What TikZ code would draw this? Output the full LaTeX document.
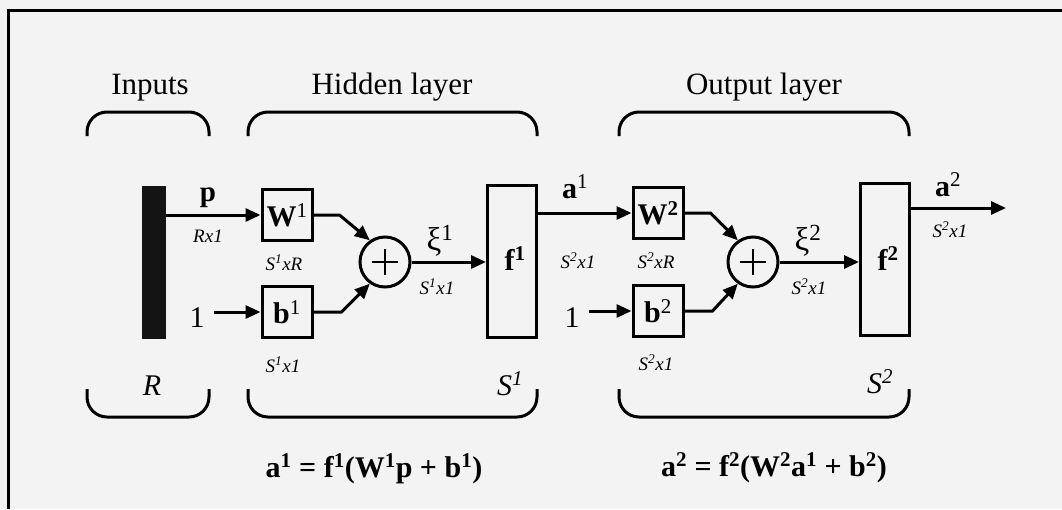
\documentclass[tikz,border=0pt]{standalone}
\usepackage{fontspec}
\setmainfont{Liberation Serif}
\usetikzlibrary{arrows.meta}
\definecolor{bgc}{HTML}{F3F3F3}
\newcommand\fbig{\fontsize{30}{34}\selectfont}
\newcommand\ftitle{\fontsize{31}{35}\selectfont}
\newcommand\fmid{\fontsize{29}{32}\selectfont}
\newcommand\fsmall{\fontsize{19}{22}\selectfont}
\newcommand\msup[1]{\textsuperscript{\mdseries #1}}
\begin{document}
\begin{tikzpicture}[x=1pt,y=-1pt,
  lw/.style={line width=3pt},
  box/.style={draw,lw,minimum width=50pt,minimum height=51pt,inner sep=0pt,font=\fbig},
  tall/.style={draw,lw,minimum width=49pt,minimum height=152pt,inner sep=0pt},
  sumc/.style={draw,lw,circle,minimum size=50pt,inner sep=0pt},
  arr/.style={lw,-{Triangle[length=15pt,width=13pt]}},
  brace/.style={lw,rounded corners=20pt},
  lbl/.style={font=\fbig,inner sep=0pt,anchor=base},
  title/.style={font=\ftitle,inner sep=0pt,anchor=base},
  dim/.style={font=\fsmall\itshape,inner sep=0pt,anchor=base},
  plus/.style={line width=2pt},
]
\fill[bgc] (0,0) rectangle (1062,509);
\useasboundingbox (0,0) rectangle (1062,509);
% frame
\draw[lw] (8,509) -- (8,10) -- (1062,10);

% titles
\node[title] (inputs) at (150,94) {Inputs};
\node[title] (hidden) at (392,94) {Hidden layer};
\node[title] (output) at (764,94) {Output layer};

% top braces
\draw[brace] (87,136) -- (87,112) -- (209,112) -- (209,136);
\draw[brace] (248,136) -- (248,112) -- (537,112) -- (537,136);
\draw[brace] (619,136) -- (619,112) -- (909,112) -- (909,136);
% bottom braces
\draw[brace] (87,389) -- (87,417) -- (209,417) -- (209,389);
\draw[brace] (248,389) -- (248,417) -- (537,417) -- (537,389);
\draw[brace] (619,389) -- (619,417) -- (909,417) -- (909,389);

% nodes
\node[fill=black!92,minimum width=24pt,minimum height=153pt,inner sep=0pt] (bar) at (154,262) {};
\node[box] (W1) at (287,215) {\textbf{W}\msup{1}};
\node[box] (b1) at (287,312) {\textbf{b}\msup{1}};
\node[sumc] (sum1) at (385,262) {};
\node[tall] (f1) at (512,261.5) {};
\node[box] (W2) at (658,213) {\textbf{W}\textsuperscript{\bfseries 2}};
\node[box] (b2) at (658,311) {\textbf{b}\msup{2}};
\node[sumc] (sum2) at (753,262) {};
\node[tall] (f2) at (885,259) {};
\coordinate (outend) at (1006,208);
\node[lbl] (one1) at (197,327) {1};
\node[lbl] (one2) at (572,327) {1};

% plus signs
\draw[plus] ([xshift=-13pt]sum1.center) -- ([xshift=13pt]sum1.center);
\draw[plus] ([yshift=-13pt]sum1.center) -- ([yshift=13pt]sum1.center);
\draw[plus] ([xshift=-13pt]sum2.center) -- ([xshift=13pt]sum2.center);
\draw[plus] ([yshift=-13pt]sum2.center) -- ([yshift=13pt]sum2.center);

% connectors layer 1
\draw[arr] (W1.west -| bar.east) -- (W1.west);
\draw[arr] ([xshift=9pt]one1.east |- b1.west) -- (b1.west);
\draw[arr] (W1.east) -- ++(26,0) -- (sum1.125);
\draw[arr] (b1.east) -- ++(28,0) -- (sum1.235);
\draw[arr] (sum1.east) -- (sum1.east -| f1.west);
% connectors layer 2
\draw[arr] (W2.west -| f1.east) -- (W2.west);
\draw[arr] ([xshift=9pt]one2.east |- b2.west) -- (b2.west);
\draw[arr] (W2.east) -- ++(26,0) -- (sum2.125);
\draw[arr] (b2.east) -- ++(28,0) -- (sum2.235);
\draw[arr] (sum2.east) -- (sum2.east -| f2.west);
\draw[arr] (outend -| f2.east) -- (outend);

% labels layer 1
\node[lbl,font=\fmid\bfseries] (plbl) at (208,201) {p};
\node[dim] (rx1) at (208,242) {Rx1};
\node[dim] (s1xr) at (284,270) {S\msup{1}xR};
\node[dim] (s1x1b) at (283,372) {S\msup{1}x1};
\node[lbl,font=\fontsize{33}{36}\selectfont] (xi1) at (440,250) {ξ\msup{1}};
\node[dim] (s1x1s) at (437,294) {S\msup{1}x1};
\node[lbl,font=\fbig\bfseries] (f1lbl) at (515,270) {f\textsuperscript{1}};
\node[lbl,font=\fbig\itshape] (rlbl) at (152,395) {R};
\node[lbl,font=\fbig\itshape] (s1lbl) at (510,395) {S\msup{1}};
% labels layer 2
\node[lbl,font=\fbig\bfseries] (a1lbl) at (575,198) {a\msup{1}};
\node[dim] (s2x1m) at (578,268) {S\msup{2}x1};
\node[dim] (s2xr) at (656,268) {S\msup{2}xR};
\node[dim] (s2x1b) at (656,370) {S\msup{2}x1};
\node[lbl,font=\fontsize{33}{36}\selectfont] (xi2) at (808,250) {ξ\msup{2}};
\node[dim] (s2x1s) at (809,294) {S\msup{2}x1};
\node[lbl,font=\fbig\bfseries] (f2lbl) at (888,270) {f\textsuperscript{2}};
\node[lbl,font=\fbig\bfseries] (a2lbl) at (948,196) {a\msup{2}};
\node[dim] (s2x1o) at (950,237) {S\msup{2}x1};
\node[lbl,font=\fbig\itshape] (s2lbl) at (880,393) {S\msup{2}};

% equations
\node[lbl,font=\fbig\bfseries] (eq1) at (374,477) {a\textsuperscript{1} = f\textsuperscript{1}(W\textsuperscript{1}p + b\textsuperscript{1})};
\node[lbl,font=\fbig\bfseries] (eq2) at (774,476) {a\textsuperscript{2} = f\textsuperscript{2}(W\textsuperscript{2}a\textsuperscript{1} + b\textsuperscript{2})};
\end{tikzpicture}
\end{document}
